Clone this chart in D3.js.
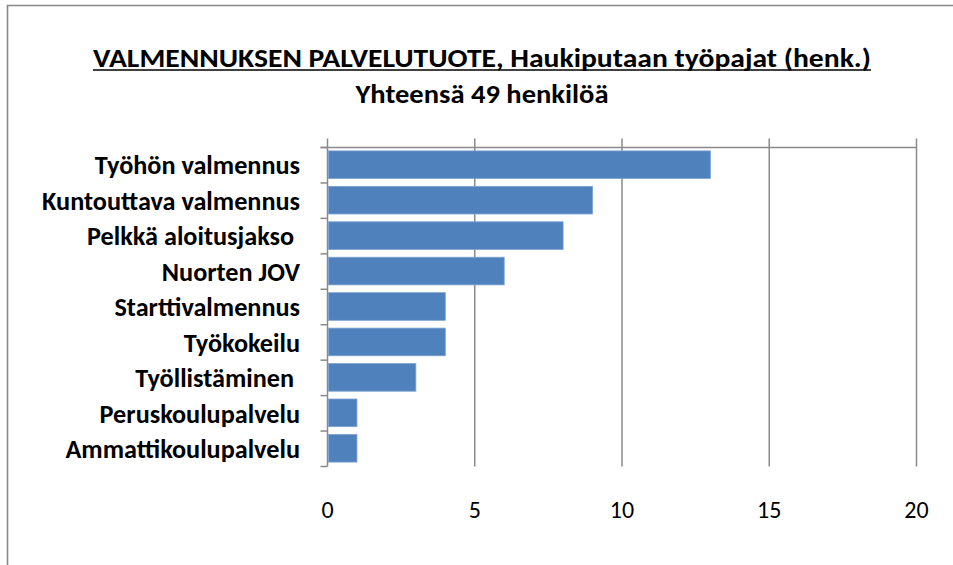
<!DOCTYPE html>
<html>
<head>
<meta charset="utf-8">
<script src="https://cdn.jsdelivr.net/npm/d3@7"></script>
<style>
  body { margin: 0; background: #fff; }
  svg { display: block; }
  text { font-family: Carlito, Lato, "Open Sans", sans-serif; fill: #000; }
</style>
</head>
<body>
<svg id="chart" width="953" height="565"></svg>
<script>
var categories = ["Työhön valmennus", "Kuntouttava valmennus", "Pelkkä aloitusjakso ", "Nuorten JOV",
  "Starttivalmennus", "Työkokeilu", "Työllistäminen ", "Peruskoulupalvelu", "Ammattikoulupalvelu"];
var values = [13, 9, 8, 6, 4, 4, 3, 1, 1];
var xTicks = [0, 5, 10, 15, 20];
var title1 = "VALMENNUKSEN PALVELUTUOTE, Haukiputaan työpajat (henk.)";
var title2 = "Yhteensä 49 henkilöä";

var svg = d3.select("#chart");
var plotL = 327.5, plotR = 916.5, plotT = 147.5, plotB = 466.5;

// outer chart border (runs off right/bottom edge)
svg.append("path").attr("d", "M7.5,570V5.5H960")
  .attr("fill", "none").attr("stroke", "#888").attr("stroke-width", 1.6);

var x = d3.scaleLinear().domain([0, 20]).range([plotL, plotR]);
var y = d3.scaleBand().domain(categories).range([plotT, plotB]).paddingInner(0.22).paddingOuter(0.11);

// gridlines with top tick marks
svg.append("g").selectAll("line").data(xTicks).enter().append("line")
  .attr("x1", d => x(d)).attr("x2", d => x(d))
  .attr("y1", plotT - 9).attr("y2", plotB)
  .attr("stroke", "#8a8a8a").attr("stroke-width", 1.5);

// top axis line
svg.append("line").attr("x1", plotL - 7).attr("x2", plotR).attr("y1", plotT).attr("y2", plotT)
  .attr("stroke", "#8a8a8a").attr("stroke-width", 1.5);

// category axis ticks at band boundaries
var step = (plotB - plotT) / categories.length;
var bounds = d3.range(categories.length + 1).map(i => plotT + i * step);
svg.append("g").selectAll("line").data(bounds).enter().append("line")
  .attr("x1", plotL - 7).attr("x2", plotL).attr("y1", d => d).attr("y2", d => d)
  .attr("stroke", "#8a8a8a").attr("stroke-width", 1.5);

// bars
svg.append("g").selectAll("rect").data(values).enter().append("rect")
  .attr("x", plotL + 1)
  .attr("y", (d, i) => y(categories[i]) - 0.5)
  .attr("width", d => x(d) - plotL - 1)
  .attr("height", y.bandwidth())
  .attr("fill", "#4f81bd")
  .attr("stroke", "#7ea2d2").attr("stroke-width", 0.8);

// category labels
var labels = svg.append("g").selectAll("text").data(categories).enter().append("text")
  .attr("x", 300).attr("y", d => y(d) + y.bandwidth() / 2)
  .attr("dy", "0.35em").attr("text-anchor", "end")
  .style("font-weight", "bold").style("font-size", "21px")
  .style("white-space", "pre")
  .text(d => d);
// fit widest label to the reference width
var w = labels.filter((d, i) => i === 1).node().getComputedTextLength();
labels.style("font-size", (21 * 258 / w) + "px");

// value tick labels at bottom
svg.append("g").selectAll("text").data(xTicks).enter().append("text")
  .attr("x", d => x(d)).attr("y", 518)
  .attr("text-anchor", "middle").style("font-size", "24px")
  .text(d => d);

// titles (condensed like the original)
svg.append("text").attr("x", 482).attr("y", 67).attr("text-anchor", "middle")
  .attr("textLength", 778).attr("lengthAdjust", "spacingAndGlyphs")
  .style("font-weight", "bold").style("font-size", "26px").text(title1);
svg.append("line").attr("x1", 482 - 389).attr("x2", 482 + 389).attr("y1", 70).attr("y2", 70)
  .attr("stroke", "#000").attr("stroke-width", 1.6);

svg.append("text").attr("x", 482).attr("y", 103).attr("text-anchor", "middle")
  .attr("textLength", 253).attr("lengthAdjust", "spacingAndGlyphs")
  .style("font-weight", "bold").style("font-size", "26px").text(title2);
</script>
</body>
</html>
